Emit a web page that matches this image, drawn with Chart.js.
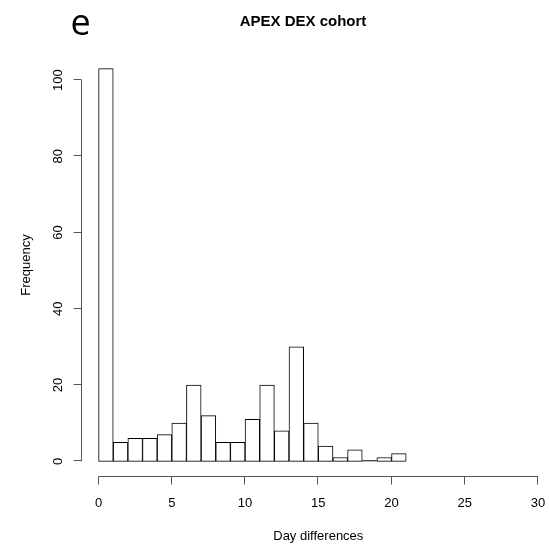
<!DOCTYPE html>
<html>
<head>
  <title>APEX DEX cohort</title>
  <style>
    body {
      margin: 0;
      background: #fff;
    }
    canvas {
      display: block;
    }
  </style>
</head>
<body>
  <canvas id="histChart" width="549" height="549"></canvas>

  <script src="https://cdn.jsdelivr.net/npm/chart.js"></script>
  <script>
    // histogram bins (width 1 day) and counts
    const binStarts = [0, 1, 2, 3, 4, 5, 6, 7, 8, 9, 10, 11, 12, 13, 14, 15, 16, 17, 18, 19, 20];
    const counts = [103, 5, 6, 6, 7, 10, 20, 12, 5, 5, 11, 20, 8, 30, 10, 4, 1, 3, 0, 1, 2];
    const xTicks = [0, 5, 10, 15, 20, 25, 30];
    const yTicks = [0, 20, 40, 60, 80, 100];

    const panelLabel = 'e';
    const mainTitle = 'APEX DEX cohort';
    const xTitle = 'Day differences';
    const yTitle = 'Frequency';

    const FONT = '"Liberation Sans", Arial, sans-serif';

    // R style axes, drawn from the chart scales
    const rAxes = {
      id: 'rAxes',
      afterDatasetsDraw(chart) {
        const ctx = chart.ctx;
        const xs = chart.scales.x;
        const ys = chart.scales.y;
        const area = chart.chartArea;
        ctx.save();

        // empty bins still get a flat line, like R's hist()
        ctx.strokeStyle = '#000';
        ctx.lineWidth = 1;
        const bar0 = chart.getDatasetMeta(0).data[0];
        const y0 = bar0.base - 0.5;
        ctx.beginPath();
        binStarts.forEach((b, i) => {
          if (counts[i] === 0) {
            ctx.moveTo(xs.getPixelForValue(b), y0);
            ctx.lineTo(xs.getPixelForValue(b + 1), y0);
          }
        });
        ctx.stroke();

        ctx.strokeStyle = '#555';
        ctx.fillStyle = '#000';
        ctx.font = '13px ' + FONT;

        // x axis
        const ax = Math.round(area.bottom) - 0.5;
        ctx.beginPath();
        ctx.moveTo(xs.getPixelForValue(xTicks[0]), ax);
        ctx.lineTo(xs.getPixelForValue(xTicks[xTicks.length - 1]), ax);
        xTicks.forEach(t => {
          const px = Math.round(xs.getPixelForValue(t)) - 0.5;
          ctx.moveTo(px, ax);
          ctx.lineTo(px, ax + 8);
        });
        ctx.stroke();
        ctx.textAlign = 'center';
        ctx.textBaseline = 'alphabetic';
        xTicks.forEach(t => {
          ctx.fillText(String(t), xs.getPixelForValue(t), 507);
        });

        // y axis
        const ay = Math.round(area.left) + 0.5;
        ctx.beginPath();
        ctx.moveTo(ay, ys.getPixelForValue(yTicks[0]));
        ctx.lineTo(ay, ys.getPixelForValue(yTicks[yTicks.length - 1]));
        yTicks.forEach(t => {
          const py = Math.round(ys.getPixelForValue(t)) - 0.5;
          ctx.moveTo(ay, py);
          ctx.lineTo(ay - 8, py);
        });
        ctx.stroke();
        yTicks.forEach(t => {
          ctx.save();
          ctx.translate(61.5, ys.getPixelForValue(t));
          ctx.rotate(-Math.PI / 2);
          ctx.fillText(String(t), 0, 0);
          ctx.restore();
        });

        // titles
        const cx = (xs.getPixelForValue(xs.min) + xs.getPixelForValue(31.2)) / 2;
        ctx.fillText(xTitle, cx, 540);
        ctx.save();
        ctx.translate(30, (area.top + area.bottom) / 2);
        ctx.rotate(-Math.PI / 2);
        ctx.fillText(yTitle, 0, 0);
        ctx.restore();

        ctx.font = 'bold 15px ' + FONT;
        ctx.fillText(mainTitle, 303, 26);

        ctx.font = '36px "Open Sans", ' + FONT;
        ctx.fillText(panelLabel, 80.5, 35);
        ctx.restore();
      }
    };

    const ctx = document.getElementById('histChart').getContext('2d');
    const chart = new Chart(ctx, {
      type: 'bar',
      data: {
        datasets: [{
          label: 'Frequency',
          data: binStarts.map((b, i) => ({ x: b + 0.5, y: counts[i] })),
          backgroundColor: '#fff',
          borderColor: '#000',
          borderWidth: 1,
          borderSkipped: false,
          barPercentage: 1,
          categoryPercentage: 1
        }]
      },
      options: {
        responsive: false,
        animation: false,
        maintainAspectRatio: false,
        layout: {
          padding: { left: 81, right: 0, top: 53, bottom: 72 }
        },
        plugins: {
          legend: { display: false },
          tooltip: { enabled: false }
        },
        scales: {
          x: {
            type: 'linear',
            display: false,
            offset: false,
            min: -1.2,
            max: 30.75
          },
          y: {
            display: false,
            min: -4.12,
            max: 107.12
          }
        }
      },
      plugins: [rAxes]
    });
  </script>
</body>
</html>
